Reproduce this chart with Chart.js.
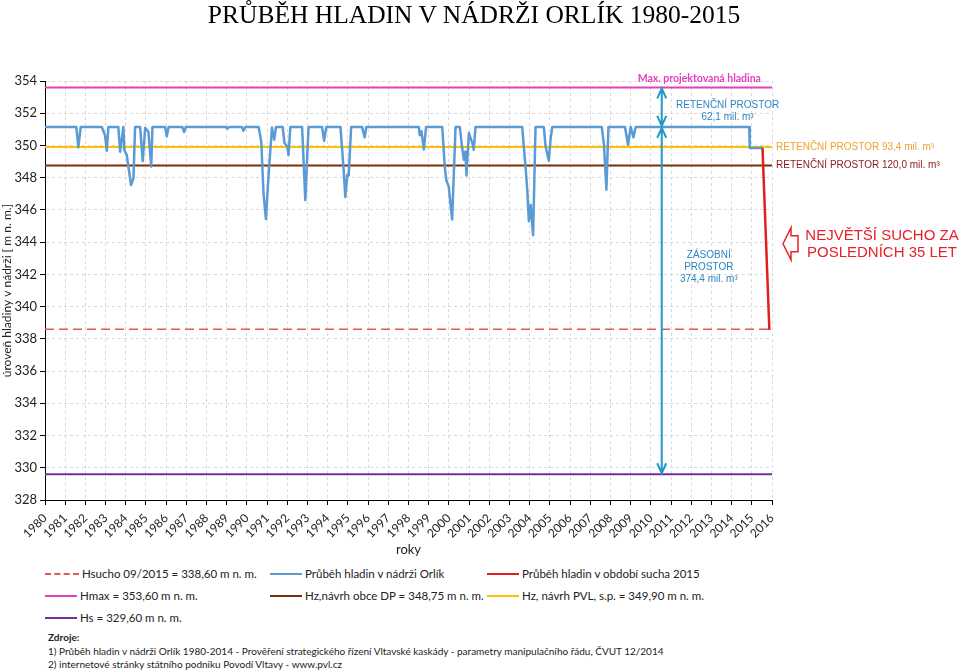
<!DOCTYPE html>
<html>
<head>
<meta charset="utf-8">
<script src="https://cdn.jsdelivr.net/npm/chart.js@4.4.0/dist/chart.umd.min.js"></script>
<style>
body { margin: 0; background: #fff; width: 960px; height: 672px; overflow: hidden; position: relative; font-family: Lato, sans-serif; color: #222; }
#c { position: absolute; left: 0; top: 0; }
#title { position: absolute; left: 0; top: 0px; width: 948px; text-align: center; font-family: "Liberation Serif", serif; font-size: 25.5px; color: #000; }
.leg { position: absolute; font-size: 11.5px; white-space: nowrap; line-height: 16px; }
.leg i { display: inline-block; width: 32px; height: 0; border-top: 2.5px solid; vertical-align: middle; margin-right: 3px; position: relative; top: -1px; }
.src { position: absolute; left: 48px; font-size: 10px; white-space: nowrap; }
</style>
</head>
<body>
<canvas id="c" width="960" height="560"></canvas>
<div id="title">PRŮBĚH HLADIN V NÁDRŽI ORLÍK 1980-2015</div>

<div class="leg" style="left:45px;top:566px"><i style="border-top:2px dashed #e05a5a;width:34px"></i>Hsucho 09/2015 = 338,60 m n. m.</div>
<div class="leg" style="left:270px;top:566px"><i style="border-color:#5b9bd5"></i>Průběh hladin v nádrži Orlík</div>
<div class="leg" style="left:487px;top:566px"><i style="border-color:#e0201e"></i>Průběh hladin v období sucha 2015</div>
<div class="leg" style="left:45px;top:588px"><i style="border-color:#e33fbf"></i>Hmax = 353,60 m n. m.</div>
<div class="leg" style="left:270px;top:588px"><i style="border-color:#7f2a0a"></i>Hz,návrh obce DP = 348,75 m n. m.</div>
<div class="leg" style="left:487px;top:588px"><i style="border-color:#ffc000"></i>Hz, návrh PVL, s.p. = 349,90 m n. m.</div>
<div class="leg" style="left:45px;top:610px"><i style="border-color:#7030a0"></i>Hs = 329,60 m n. m.</div>

<div class="src" style="top:631px;font-weight:bold">Zdroje:</div>
<div class="src" style="top:645px">1) Průběh hladin v nádrži Orlík 1980-2014 - Prověření strategického řízení Vltavské kaskády - parametry manipulačního řádu, ČVUT 12/2014</div>
<div class="src" style="top:658px">2) internetové stránky státního podniku Povodí Vltavy - www.pvl.cz</div>

<script>
// hladina Orlík 1980-2015
const years = [1980.00, 1981.55, 1981.65, 1981.77, 1982.81, 1982.97, 1983.06, 1983.14, 1983.63, 1983.72,
  1983.88, 1983.93, 1984.05, 1984.13, 1984.26, 1984.38, 1984.46, 1984.71, 1984.84, 1984.96,
  1985.12, 1985.26, 1985.32, 1985.95, 1986.03, 1986.12, 1986.80, 1986.89, 1986.97, 1988.95,
  1989.03, 1989.10, 1989.75, 1989.83, 1989.92, 1990.58, 1990.71, 1990.82, 1990.94, 1991.07,
  1991.24, 1991.35, 1991.44, 1991.77, 1991.86, 1992.00, 1992.06, 1992.15, 1992.73, 1992.89,
  1993.05, 1993.72, 1993.82, 1993.93, 1994.63, 1994.79, 1994.87, 1994.97, 1995.04, 1995.16,
  1995.70, 1995.83, 1995.91, 1998.51, 1998.56, 1998.64, 1998.76, 1998.87, 1999.67, 1999.80,
  1999.88, 1999.99, 2000.16, 2000.33, 2000.54, 2000.66, 2000.74, 2000.82, 2000.87, 2000.99,
  2001.16, 2001.23, 2001.32, 2003.63, 2003.80, 2003.88, 2003.96, 2004.05, 2004.17, 2004.29,
  2004.70, 2004.79, 2004.95, 2005.04, 2005.12, 2007.57, 2007.68, 2007.80, 2007.90, 2008.72,
  2008.87, 2009.00, 2009.14, 2009.25, 2014.87, 2014.90, 2015.53];
const levels = [351.15, 351.15, 349.88, 351.15, 351.15, 350.65, 349.67, 351.15, 351.15, 349.61,
  351.15, 349.71, 349.40, 348.68, 347.54, 347.96, 351.15, 351.15, 349.03, 351.10,
  350.85, 348.68, 351.15, 351.15, 350.57, 351.15, 351.15, 350.83, 351.15, 351.15,
  351.04, 351.15, 351.15, 350.91, 351.15, 351.15, 350.23, 347.02, 345.43, 348.16,
  351.12, 350.35, 351.15, 351.15, 350.15, 349.94, 349.39, 351.15, 351.15, 346.61,
  351.15, 351.15, 350.29, 351.15, 351.15, 348.49, 346.80, 348.18, 348.14, 351.15,
  351.15, 350.50, 351.15, 351.15, 350.63, 350.88, 349.75, 351.15, 351.15, 348.60,
  347.81, 347.46, 345.40, 351.15, 351.15, 349.84, 349.11, 349.63, 348.14, 350.77,
  350.15, 349.73, 351.15, 351.15, 348.60, 347.25, 345.30, 346.30, 344.43, 351.15,
  351.15, 349.94, 349.05, 350.46, 351.15, 351.15, 350.04, 347.25, 351.15, 351.15,
  350.04, 351.15, 350.50, 351.15, 351.15, 349.84, 349.84];

// období sucha 2015
const droughtYears = [2015.53, 2015.87];
const droughtLevels = [349.84, 338.55];

// vodorovné hladiny
const lineSpan = [1980, 2016];
const hMax = 353.60;
const hzPvl = 349.90;
const hzDp = 348.75;
const hSucho = 338.60;
const hS = 329.60;

const xTicks = [1980, 1981, 1982, 1983, 1984, 1985, 1986, 1987, 1988, 1989, 1990, 1991, 1992,
  1993, 1994, 1995, 1996, 1997, 1998, 1999, 2000, 2001, 2002, 2003, 2004, 2005, 2006, 2007,
  2008, 2009, 2010, 2011, 2012, 2013, 2014, 2015, 2016];
const yTicks = [328, 330, 332, 334, 336, 338, 340, 342, 344, 346, 348, 350, 352, 354];

const arrowYear = 2010.54;
const fullLevel = 351.15;

function flatLine(v) {
    return lineSpan.map(function (x) { return { x: x, y: v }; });
}

function pairs(xs, ys) {
    return xs.map(function (x, i) { return { x: x, y: ys[i] }; });
}

function dblArrow(ctx, x, y1, y2) {
    var h = 10, w = 4.5;
    ctx.beginPath();
    ctx.moveTo(x, y1); ctx.lineTo(x, y2);
    ctx.moveTo(x - w, y1 + h); ctx.lineTo(x, y1); ctx.lineTo(x + w, y1 + h);
    ctx.moveTo(x - w, y2 - h); ctx.lineTo(x, y2); ctx.lineTo(x + w, y2 - h);
    ctx.stroke();
}

var annotations = {
    id: 'annotations',
    afterDatasetsDraw: function (chart) {
        var ctx = chart.ctx, xs = chart.scales.x, ys = chart.scales.y, area = chart.chartArea;
        var ax = xs.getPixelForValue(arrowYear);
        ctx.save();

        // šipky
        ctx.strokeStyle = '#1f9ac6';
        ctx.lineWidth = 2;
        dblArrow(ctx, ax, ys.getPixelForValue(hMax) + 1, ys.getPixelForValue(fullLevel) - 1);
        dblArrow(ctx, ax, ys.getPixelForValue(fullLevel) + 1, ys.getPixelForValue(hS) - 1);

        ctx.textBaseline = 'middle';
        ctx.textAlign = 'center';
        ctx.fillStyle = '#e33fbf';
        ctx.font = 'bold 10.5px Lato';
        ctx.fillText('Max. projektovaná hladina', xs.getPixelForValue(2012.4), ys.getPixelForValue(hMax) - 9);

        ctx.fillStyle = '#2e86c1';
        ctx.font = '10px "Liberation Sans"';
        ctx.fillText('RETENČNÍ PROSTOR', xs.getPixelForValue(2013.8), ys.getPixelForValue(352.5));
        ctx.fillText('62,1 mil. m³', xs.getPixelForValue(2013.8), ys.getPixelForValue(351.75));
        ctx.fillText('ZÁSOBNÍ', xs.getPixelForValue(2012.87), ys.getPixelForValue(343.2));
        ctx.fillText('PROSTOR', xs.getPixelForValue(2012.87), ys.getPixelForValue(342.45));
        ctx.fillText('374,4 mil. m³', xs.getPixelForValue(2012.87), ys.getPixelForValue(341.7));

        ctx.textAlign = 'left';
        ctx.fillStyle = '#f0a030';
        ctx.fillText('RETENČNÍ PROSTOR 93,4 mil. m³', area.right + 4, ys.getPixelForValue(hzPvl));
        ctx.fillStyle = '#8b1a1a';
        ctx.fillText('RETENČNÍ PROSTOR 120,0 mil. m³', area.right + 4, ys.getPixelForValue(hzDp));

        // červená šipka
        var cy = ys.getPixelForValue(343.9), bx = area.right + 11;
        ctx.strokeStyle = '#e8202a';
        ctx.lineWidth = 1.5;
        ctx.beginPath();
        ctx.moveTo(bx, cy);
        ctx.lineTo(bx + 8, cy - 16);
        ctx.lineTo(bx + 8, cy - 8);
        ctx.lineTo(bx + 15, cy - 8);
        ctx.lineTo(bx + 15, cy + 8);
        ctx.lineTo(bx + 8, cy + 8);
        ctx.lineTo(bx + 8, cy + 16);
        ctx.closePath();
        ctx.stroke();

        ctx.textAlign = 'center';
        ctx.fillStyle = '#e8202a';
        ctx.font = '15px "Liberation Sans"';
        ctx.fillText('NEJVĚTŠÍ SUCHO ZA', area.right + 110, cy - 8);
        ctx.fillText('POSLEDNÍCH 35 LET', area.right + 110, cy + 9);
        ctx.restore();
    }
};

var ctx = document.getElementById('c').getContext('2d');
var chart = new Chart(ctx, {
    type: 'line',
    data: {
        datasets: [
            { label: 'Průběh hladin v období sucha 2015', data: pairs(droughtYears, droughtLevels), borderColor: '#e0201e', borderWidth: 2.5 },
            { label: 'Průběh hladin v nádrži Orlík', data: pairs(years, levels), borderColor: '#5b9bd5', borderWidth: 2.5 },
            { label: 'Hmax', data: flatLine(hMax), borderColor: '#e33fbf', borderWidth: 2 },
            { label: 'Hz PVL', data: flatLine(hzPvl), borderColor: '#ffc000', borderWidth: 2 },
            { label: 'Hz DP', data: flatLine(hzDp), borderColor: '#7f2a0a', borderWidth: 2 },
            { label: 'Hsucho', data: flatLine(hSucho), borderColor: '#e05a5a', borderWidth: 1.5, borderDash: [9, 5] },
            { label: 'Hs', data: flatLine(hS), borderColor: '#7030a0', borderWidth: 2 }
        ]
    },
    options: {
        responsive: false,
        animation: false,
        layout: { padding: { top: 81, right: 188, left: 0, bottom: 0 } },
        elements: { point: { radius: 0 }, line: { tension: 0, borderJoinStyle: 'round' } },
        plugins: { legend: { display: false }, tooltip: { enabled: false } },
        scales: {
            x: {
                type: 'linear',
                min: 1980,
                max: 2016,
                afterBuildTicks: function (s) { s.ticks = xTicks.map(function (v) { return { value: v }; }); },
                afterFit: function (s) { s.height = 60; },
                ticks: { autoSkip: false, minRotation: 45, maxRotation: 45, padding: 6, color: '#222', font: { family: 'Lato', size: 12 }, callback: function (v) { return String(v); } },
                grid: { color: '#d9d9d9', tickColor: '#000', tickLength: 5 },
                border: { color: '#000', width: 1, dash: [3, 3] },
                title: { display: true, text: 'roky', color: '#222', font: { family: 'Lato', size: 13 }, padding: { top: 0, bottom: 2 } }
            },
            y: {
                min: 328,
                max: 354,
                afterBuildTicks: function (s) { s.ticks = yTicks.map(function (v) { return { value: v }; }); },
                afterFit: function (s) { s.width = 45; },
                ticks: { padding: 3, color: '#222', font: { family: 'Lato', size: 13 } },
                grid: { color: '#d9d9d9', tickColor: '#000', tickLength: 5 },
                border: { color: '#000', width: 1, dash: [3, 3] },
                title: { display: true, text: 'úroveň hladiny v nádrži [ m n. m.]', color: '#222', font: { family: 'Lato', size: 12 }, padding: 0 }
            }
        }
    },
    plugins: [annotations]
});
</script>
</body>
</html>
